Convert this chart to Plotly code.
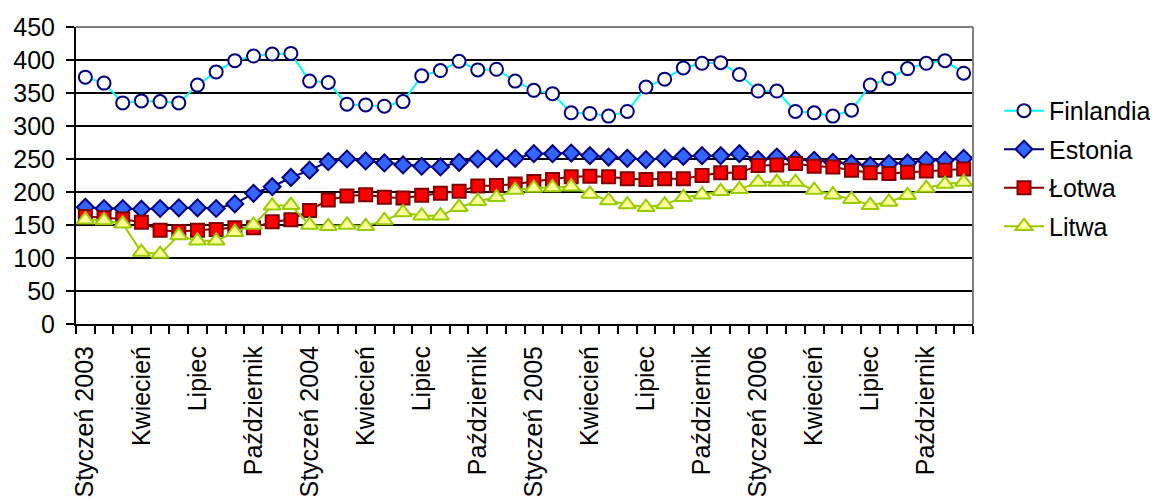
import plotly.graph_objects as go

# months Jan 2003 - Dec 2006
month_names = ["Styczeń", "Luty", "Marzec", "Kwiecień", "Maj", "Czerwiec",
               "Lipiec", "Sierpień", "Wrzesień", "Październik", "Listopad", "Grudzień"]
years = [2003, 2004, 2005, 2006]
labelled_months = ["Styczeń", "Kwiecień", "Lipiec", "Październik"]

finlandia = [374, 365, 335, 338, 337, 335, 362, 382, 399, 406, 409, 410,
             368, 366, 333, 332, 330, 337, 376, 384, 398, 385, 386, 368,
             354, 349, 320, 319, 315, 322, 359, 371, 388, 395, 396, 378,
             353, 353, 322, 320, 315, 324, 362, 372, 387, 395, 399, 380]
estonia = [177, 175, 175, 174, 175, 176, 176, 175, 182, 198, 208, 222,
           233, 246, 250, 247, 244, 241, 239, 238, 245, 250, 251, 251,
           258, 258, 259, 255, 253, 251, 249, 251, 254, 255, 255, 258,
           249, 253, 249, 248, 245, 243, 240, 243, 244, 248, 248, 251]
lotwa = [163, 161, 159, 154, 142, 140, 142, 143, 146, 146, 155, 158,
         172, 188, 194, 196, 192, 191, 195, 198, 201, 209, 210, 212,
         216, 219, 223, 224, 223, 220, 219, 220, 220, 225, 229, 229,
         240, 241, 243, 239, 238, 233, 229, 228, 230, 232, 233, 235]
litwa = [158, 157, 152, 109, 106, 134, 126, 126, 139, 150, 179, 180,
         150, 148, 150, 148, 157, 169, 164, 164, 177, 186, 192, 203,
         206, 207, 208, 197, 187, 181, 177, 181, 192, 196, 201, 204,
         215, 215, 215, 203, 196, 189, 180, 185, 195, 206, 212, 215]

categories = []
ticktext = []
for y in years:
    for m in month_names:
        categories.append(f"{m} {y}")
        if m == "Styczeń":
            ticktext.append(f"{m} {y}")
        elif m in labelled_months:
            ticktext.append(m)
        else:
            ticktext.append("")

FONT = "Liberation Sans, Arial, sans-serif"

series = [
    ("Finlandia", finlandia, "#00FFFF", "circle", "#FFFFFF", "#000080", 13),
    ("Estonia", estonia, "#000080", "diamond", "#3366FF", "#000080", 13),
    ("Łotwa", lotwa, "#800000", "square", "#FF0000", "#800000", 13),
    ("Litwa", litwa, "#99CC00", "triangle-up", "#FFFF99", "#99CC00", 15),
]

fig = go.Figure()
for name, vals, lc, sym, fill, edge, size in series:
    fig.add_trace(go.Scatter(
        x=categories, y=vals, name=name, mode="lines+markers",
        line=dict(color=lc, width=2),
        marker=dict(symbol=sym, size=size, color=fill,
                    line=dict(color=edge, width=2)),
        legendgroup=name,
    ))

# the page puts the figure 8px in from the corner, so the size is trimmed by that
fig.update_layout(
    width=1150, height=494,
    margin=dict(l=68, r=185, t=19, b=178, autoexpand=False),
    paper_bgcolor="white", plot_bgcolor="white",
    font=dict(family=FONT, size=25, color="black"),
    showlegend=True,
    legend=dict(x=1.029, y=0.795, xanchor="left", yanchor="top",
                font=dict(size=25), tracegroupgap=3, itemwidth=40,
                bgcolor="rgba(0,0,0,0)"),
)

fig.update_xaxes(
    type="category", tickmode="array", tickvals=categories, ticktext=ticktext,
    tickson="boundaries", ticks="outside", ticklen=8, tickwidth=2,
    tickcolor="black", tickangle=-90, showgrid=False,
    showline=True, linecolor="black", linewidth=2, automargin=False,
    ticklabelstandoff=10, range=[-0.5, 47.5],
)
fig.update_yaxes(
    range=[0, 450], dtick=50, showgrid=True, gridcolor="black", gridwidth=2,
    showline=True, linecolor="black", linewidth=2, zeroline=False,
    ticks="outside", ticklen=8, tickwidth=2, tickcolor="black",
    ticklabelstandoff=6, automargin=False,
)

# gray border on top and right of the plot area
fig.add_shape(type="line", xref="paper", yref="paper", x0=0, x1=1, y0=1, y1=1,
              line=dict(color="#808080", width=2), layer="above")
fig.add_shape(type="line", xref="paper", yref="paper", x0=1, x1=1, y0=0, y1=1,
              line=dict(color="#808080", width=2), layer="above")

fig.write_html("out.html")
